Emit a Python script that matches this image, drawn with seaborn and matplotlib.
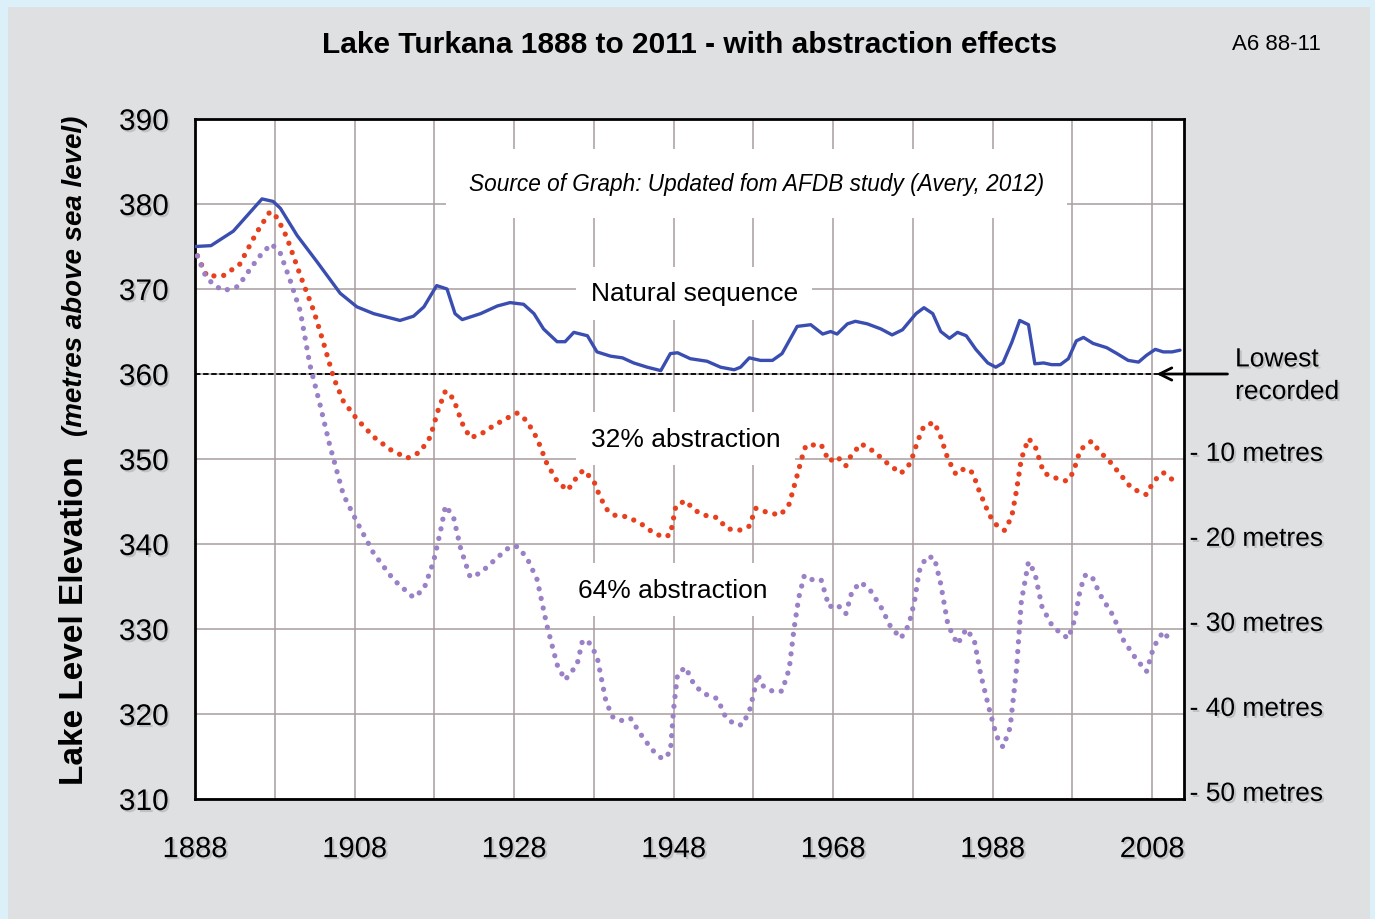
import matplotlib
matplotlib.use("Agg")
import matplotlib.pyplot as plt
import matplotlib.patheffects as pe
from matplotlib.patches import Rectangle
import seaborn as sns

# -------------------------------
# Data
# -------------------------------
nat_years = [1888, 1890, 1892.8, 1896.4, 1897.8, 1898.7, 1900.8, 1903.3, 1906.2, 1908.3,
             1910.4, 1913.7, 1915.4, 1916.7, 1918.3, 1919.6, 1920.6, 1921.5, 1923.8, 1925.9,
             1927.5, 1929.2, 1930.5, 1931.7, 1933.4, 1934.4, 1935.5, 1937.2, 1938.4, 1940.1,
             1941.6, 1943, 1944.7, 1946.4, 1947.6, 1948.5, 1950.1, 1952.2, 1953.9, 1955.6,
             1956.4, 1957.5, 1958.9, 1960.4, 1961.6, 1963.5, 1965.2, 1966.7, 1967.7, 1968.5,
             1969.8, 1970.8, 1972.3, 1974, 1975.4, 1976.7, 1978.4, 1979.4, 1980.5, 1981.5,
             1982.6, 1983.6, 1984.7, 1985.9, 1987.4, 1988.4, 1989.3, 1990.4, 1991.4, 1992.5,
             1993.3, 1994.4, 1995.4, 1996.5, 1997.5, 1998.5, 1999.4, 2000.6, 2002.3, 2003.6,
             2005, 2006.3, 2007.3, 2008.4, 2009.4, 2010.5, 2011.5]
nat_level = [375.0, 375.1, 376.8, 380.6, 380.3, 379.5, 376.3, 373.2, 369.5, 367.9,
             367.1, 366.3, 366.8, 367.9, 370.4, 370.0, 367.1, 366.4, 367.1, 368.0,
             368.4, 368.2, 367.1, 365.3, 363.8, 363.8, 364.9, 364.5, 362.6, 362.1,
             361.9, 361.3, 360.8, 360.4, 362.4, 362.5, 361.8, 361.5, 360.8, 360.5,
             360.8, 361.9, 361.6, 361.6, 362.4, 365.6, 365.8, 364.7, 365.0, 364.7,
             365.9, 366.2, 365.9, 365.3, 364.6, 365.2, 367.1, 367.8, 367.1, 365.0,
             364.2, 364.9, 364.5, 362.9, 361.3, 360.8, 361.3, 363.7, 366.3, 365.8,
             361.2, 361.3, 361.1, 361.1, 361.8, 363.9, 364.3, 363.6, 363.1, 362.4,
             361.6, 361.4, 362.2, 362.9, 362.6, 362.6, 362.8]

a32_years = [1888.3, 1889.5, 1891.6, 1893.6, 1895.7, 1897.4, 1898.3, 1899.5, 1901.2, 1902.9,
             1904.1, 1905.4, 1906.6, 1908.3, 1910.4, 1912.5, 1914.6, 1916.2, 1917.5, 1918.5,
             1919.4, 1920.4, 1921.5, 1922.5, 1923.8, 1925.4, 1927.1, 1928.4, 1929.6, 1930.9,
             1932.1, 1933.4, 1934.7, 1935.9, 1936.7, 1938.0, 1938.8, 1939.7, 1940.5, 1942.2,
             1943.9, 1945.5, 1946.8, 1947.6, 1948.3, 1949.5, 1950.6, 1951.8, 1953.5, 1954.7,
             1956.2, 1957.5, 1958.3, 1959.8, 1961.4, 1962.5, 1963.3, 1964.2, 1964.6, 1966.5,
             1967.5, 1968.5, 1969.6, 1970.2, 1971.5, 1973.1, 1974.8, 1976.5, 1977.7, 1978.6,
             1979.4, 1980.7, 1981.5, 1982.4, 1983.4, 1984.5, 1985.5, 1986.3, 1987.6, 1988.6,
             1989.5, 1990.4, 1991.0, 1991.6, 1992.5, 1993.3, 1994.4, 1995.4, 1997.3, 1998.1,
             1999.0, 2000.4, 2001.5, 2002.7, 2004.0, 2005.4, 2006.5, 2007.3, 2008.2, 2009.4,
             2010.5]
a32_level = [373.9, 371.5, 371.6, 372.9, 376.6, 379.1, 378.4, 376.1, 371.6, 367.4,
             363.7, 359.5, 356.8, 354.7, 352.6, 351.1, 350.1, 350.8, 352.6, 355.8,
             358.0, 357.1, 354.2, 352.5, 352.9, 353.9, 354.8, 355.4, 354.5, 352.4,
             349.5, 347.4, 346.3, 347.9, 348.7, 347.4, 345.5, 344.0, 343.4, 343.2,
             342.4, 341.3, 340.8, 341.1, 344.5, 345.1, 344.0, 343.4, 343.1, 341.8,
             341.6, 342.1, 344.2, 343.7, 343.4, 344.7, 347.4, 350.5, 351.6, 351.7,
             349.7, 350.3, 349.2, 350.3, 351.8, 350.9, 349.5, 348.3, 349.5, 352.1,
             353.9, 354.3, 352.6, 350.0, 348.2, 348.9, 348.4, 346.3, 343.4, 342.1,
             341.6, 343.2, 346.3, 350.0, 352.4, 351.6, 348.4, 347.9, 347.4, 348.4,
             351.1, 352.1, 350.8, 349.7, 348.2, 346.6, 346.1, 345.8, 347.4, 348.4,
             347.6]

a64_years = [1888.3, 1889.3, 1890.3, 1891.6, 1893.4, 1895.1, 1896.4, 1897.6, 1898.7, 1899.9,
             1901.2, 1902.4, 1903.7, 1904.9, 1906.6, 1908.3, 1910.4, 1912.9, 1915.4, 1916.7,
             1917.9, 1918.8, 1919.4, 1920.4, 1921.3, 1922.5, 1923.8, 1925.9, 1927.5, 1928.4,
             1929.6, 1930.9, 1932.1, 1933.4, 1934.4, 1935.9, 1936.6, 1937.4, 1938.4, 1939.5,
             1940.3, 1941.3, 1942.6, 1943.9, 1945.3, 1946.6, 1947.6, 1948.0, 1948.5, 1949.5,
             1950.6, 1951.8, 1953.5, 1954.5, 1955.6, 1956.6, 1957.5, 1958.1, 1958.5, 1959.3,
             1960.6, 1961.6, 1962.5, 1963.1, 1963.7, 1964.4, 1965.4, 1966.5, 1967.5, 1968.5,
             1969.6, 1970.4, 1971.5, 1972.7, 1974.0, 1975.2, 1976.5, 1977.5, 1978.2, 1978.8,
             1979.7, 1980.7, 1981.5, 1982.4, 1983.6, 1984.7, 1985.7, 1986.5, 1987.6, 1988.5,
             1989.3, 1990.2, 1991.0, 1991.6, 1992.5, 1993.3, 1994.2, 1995.4, 1996.5, 1997.5,
             1998.3, 1999.0, 1999.6, 2000.4, 2001.5, 2003.1, 2004.4, 2005.9, 2007.3, 2008.2,
             2009.4, 2010.5]
a64_level = [373.9, 371.6, 370.5, 369.8, 370.3, 372.6, 374.2, 375.3, 374.2, 371.1,
             367.4, 361.1, 356.3, 351.6, 345.8, 342.6, 338.9, 335.8, 333.7, 334.7,
             337.9, 341.6, 344.5, 343.2, 339.5, 336.1, 336.6, 338.4, 339.7, 339.7,
             338.4, 335.8, 330.5, 325.8, 324.0, 325.8, 328.7, 328.4, 326.8, 321.6,
             319.7, 319.2, 319.5, 317.6, 315.8, 314.7, 315.5, 320.5, 324.7, 325.5,
             323.4, 322.4, 321.8, 319.7, 318.8, 318.7, 320.3, 322.6, 324.7, 323.2,
             322.6, 322.7, 325.3, 330.0, 333.7, 336.3, 335.8, 335.8, 332.6, 332.9,
             331.8, 334.5, 335.5, 334.5, 332.6, 330.3, 328.9, 330.5, 333.2, 336.8,
             338.5, 338.4, 335.3, 330.5, 328.2, 330.0, 328.7, 324.7, 320.5, 317.4,
             316.1, 318.4, 325.3, 333.2, 337.9, 336.6, 332.6, 330.5, 329.5, 328.9,
             331.1, 334.7, 336.3, 336.3, 334.0, 331.6, 328.7, 326.6, 325.0, 327.9,
             329.7, 328.4]

lowest_recorded = 360
drop_levels = [350, 340, 330, 320, 310]
drop_labels = ["- 10 metres", "- 20 metres", "- 30 metres", "- 40 metres", "- 50 metres"]
year_ticks = list(range(1888, 2012, 10))
year_labels = [str(y) if (y - 1888) % 20 == 0 else "" for y in year_ticks]
level_ticks = list(range(310, 391, 10))

# -------------------------------
# Style
# -------------------------------
sns.set_style("white")
plt.rcParams["font.family"] = ["Liberation Sans", "DejaVu Sans"]
plt.rcParams["text.color"] = "black"
plt.rcParams["xtick.color"] = "black"
plt.rcParams["ytick.color"] = "black"

shadow = [pe.SimplePatchShadow(offset=(1.5, -1.5), shadow_rgbFace="#888888", alpha=0.35),
          pe.Normal()]

fig = plt.figure(figsize=(13.75, 9.2), dpi=100, facecolor="#dcf0f9")
fig.patches.append(Rectangle((8 / 1375, 0), 1 - 13 / 1375, 1 - 8 / 920,
                             transform=fig.transFigure, facecolor="#dfe0e2",
                             edgecolor="none", zorder=-10))

ax = fig.add_axes([195 / 1375, 1 - 800 / 920, 989 / 1375, 680 / 920])
ax.set_zorder(1)
ax.set_facecolor("white")

# -------------------------------
# Lines
# -------------------------------
sns.lineplot(x=nat_years, y=nat_level, ax=ax, color="#3a4db0", linewidth=2.4,
             zorder=5)
sns.lineplot(x=a32_years, y=a32_level, ax=ax, color="#e8401e", linewidth=3.8,
             linestyle=(0, (0.01, 1.85)), dash_capstyle="round", zorder=5)
sns.lineplot(x=a64_years, y=a64_level, ax=ax, color="#9a80c6", linewidth=3.8,
             linestyle=(0, (0.01, 1.85)), dash_capstyle="round", zorder=5)

ax.axhline(lowest_recorded, color="black", linestyle=(0, (3, 1.5)), linewidth=1.3,
           zorder=4)

# -------------------------------
# Axes
# -------------------------------
ax.set_xlim(1888, 2012)
ax.set_ylim(310, 390)
ax.set_xticks(year_ticks)
ax.set_xticklabels(year_labels)
ax.set_yticks(level_ticks)
ax.grid(True, color="#a89e9e", linewidth=1.1, zorder=0)
ax.set_axisbelow(True)
for s in ax.spines.values():
    s.set_color("black")
    s.set_linewidth(2)
ax.tick_params(axis="x", direction="out", length=9, color="#b0a8a8", width=1,
               pad=17, labelsize=21)
ax.tick_params(axis="y", length=0, pad=19, labelsize=21.5)
for lab in ax.get_xticklabels() + ax.get_yticklabels():
    lab.set_path_effects(shadow)

# -------------------------------
# Text
# -------------------------------
fig.text(690 / 1375, 1 - 45 / 920, "Lake Turkana 1888 to 2011 - with abstraction effects",
         ha="center", va="center", fontsize=21.5, fontweight="bold")
fig.text(1276 / 1375, 1 - 45 / 920, "A6 88-11", ha="center", va="center", fontsize=16)

fig.text(75 / 1375, 1 - 785 / 920, "Lake Level Elevation", rotation=90, ha="center",
         va="bottom", fontsize=24, fontweight="bold")
fig.text(75 / 1375, 1 - 436 / 920, "(metres above sea level)", rotation=90, ha="center",
         va="bottom", fontsize=20, fontweight="bold", fontstyle="italic")

ax.text(1958.4, 382.4, "Source of Graph: Updated fom AFDB study (Avery, 2012)",
        ha="center", va="center", fontsize=16.3, fontstyle="italic",
        bbox=dict(facecolor="white", edgecolor="none", boxstyle="square,pad=1.0"),
        zorder=3)
label_box = dict(facecolor="white", edgecolor="none", boxstyle="square,pad=0.55")
ax.text(1937.6, 369.5, "Natural sequence", ha="left", va="center", fontsize=19,
        bbox=label_box, zorder=3)
ax.text(1937.6, 352.4, "32% abstraction", ha="left", va="center", fontsize=19,
        bbox=label_box, zorder=3)
ax.text(1936.0, 334.6, "64% abstraction", ha="left", va="center", fontsize=19,
        bbox=label_box, zorder=3)

for lvl, lab in zip(drop_levels, drop_labels):
    ax.text(2012.7, lvl + 0.6, lab, ha="left", va="center", fontsize=19, clip_on=False,
            path_effects=shadow)

ax.annotate("", xy=(2008.2, lowest_recorded), xytext=(2017.8, lowest_recorded),
            arrowprops=dict(arrowstyle="->", color="black", lw=2, mutation_scale=22),
            annotation_clip=False, zorder=6)
ax.text(2018.4, lowest_recorded - 0.2, "Lowest\nrecorded", ha="left", va="center",
        fontsize=19, linespacing=1.45, clip_on=False, path_effects=shadow)

plt.savefig("out.png", dpi=100, facecolor=fig.get_facecolor())
